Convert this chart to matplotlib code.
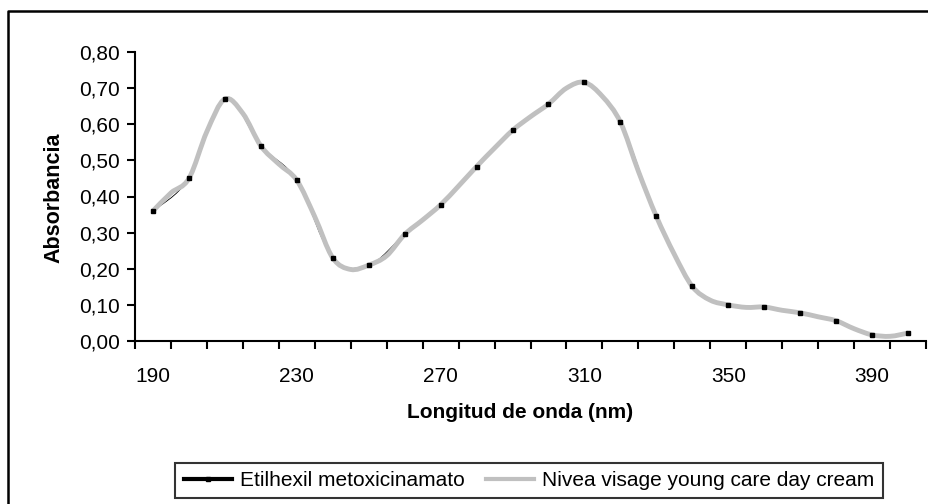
import numpy as np
import matplotlib
matplotlib.use("Agg")
import matplotlib.pyplot as plt
from matplotlib.lines import Line2D
from matplotlib.path import Path
from matplotlib.patches import PathPatch
from matplotlib.ticker import FuncFormatter

plt.rcParams['font.family'] = ['Liberation Sans', 'DejaVu Sans']

# wavelength categories (nm) of the marked series
wavelength = [190, 200, 210, 220, 230, 240, 250, 260, 270, 280, 290,
              300, 310, 320, 330, 340, 350, 360, 370, 380, 390, 400]
etilhexil = [0.36, 0.45, 0.67, 0.54, 0.445, 0.23, 0.21, 0.295, 0.377, 0.483, 0.583,
             0.656, 0.716, 0.606, 0.345, 0.151, 0.10, 0.094, 0.078, 0.056, 0.017, 0.022]

# cream spectrum, read every 5 nm
wavelength_5 = [190, 195, 200, 205, 210, 215, 220, 225, 230, 235, 240, 245, 250, 255,
                260, 265, 270, 275, 280, 285, 290, 295, 300, 305, 310, 315, 320, 325,
                330, 335, 340, 345, 350, 355, 360, 365, 370, 375, 380, 385, 390, 395, 400]
nivea = [0.36, 0.41, 0.45, 0.58, 0.67, 0.63, 0.54, 0.49, 0.445, 0.344, 0.23, 0.198, 0.21, 0.236,
         0.295, 0.335, 0.377, 0.429, 0.483, 0.534, 0.583, 0.621, 0.656, 0.70, 0.716, 0.677, 0.606, 0.47,
         0.345, 0.24, 0.151, 0.113, 0.10, 0.093, 0.094, 0.085, 0.078, 0.067, 0.056, 0.034, 0.017, 0.013, 0.022]

tick_labels = [190, 230, 270, 310, 350, 390]


def smooth_path(xs, ys):
    # Excel-style smoothed line: cubic bezier segments through every point
    xs = np.asarray(xs, float)
    ys = np.asarray(ys, float)
    verts = [(xs[0], ys[0])]
    codes = [Path.MOVETO]
    n = len(xs)
    for i in range(n - 1):
        x0, y0 = (xs[i - 1], ys[i - 1]) if i > 0 else (xs[i], ys[i])
        x3, y3 = (xs[i + 2], ys[i + 2]) if i + 2 < n else (xs[i + 1], ys[i + 1])
        c1 = (xs[i] + (xs[i + 1] - x0) / 6, ys[i] + (ys[i + 1] - y0) / 6)
        c2 = (xs[i + 1] - (x3 - xs[i]) / 6, ys[i + 1] - (y3 - ys[i]) / 6)
        verts += [c1, c2, (xs[i + 1], ys[i + 1])]
        codes += [Path.CURVE4] * 3
    return Path(verts, codes)


# category positions (one slot per 10 nm)
x_cat = (np.array(wavelength) - wavelength[0]) / 10.0
x_cat5 = (np.array(wavelength_5) - wavelength[0]) / 10.0

fig = plt.figure(figsize=(9.29, 5.04), dpi=100)
ax = fig.add_axes([135 / 929, 1 - 341 / 504, (926 - 135) / 929, (341 - 52) / 504])

ax.add_patch(PathPatch(smooth_path(x_cat, etilhexil), fill=False, edgecolor='black', lw=0.6, zorder=2))
ax.add_patch(PathPatch(smooth_path(x_cat5, nivea), fill=False, edgecolor='#c0c0c0', lw=3.5,
                       capstyle='butt', zorder=3))
ax.plot(x_cat, etilhexil, ls='none', marker='s', ms=2.6, color='black', zorder=4)

ax.set_xlim(-0.5, len(wavelength) - 0.5)
ax.set_ylim(0, 0.8)

ax.spines['top'].set_visible(False)
ax.spines['right'].set_visible(False)
for s in ['left', 'bottom']:
    ax.spines[s].set_linewidth(1.5)

ax.set_yticks(np.arange(0, 0.81, 0.1))
ax.yaxis.set_major_formatter(FuncFormatter(lambda v, p: f"{v:.2f}".replace('.', ',')))
ax.tick_params(axis='y', direction='out', length=6, width=1.5, pad=5, labelsize=15)

lab_pos = [wavelength.index(t) for t in tick_labels]
ax.set_xticks(lab_pos)
ax.set_xticklabels([str(t) for t in tick_labels])
ax.set_xticks(np.arange(-0.5, len(wavelength), 1.0), minor=True)
ax.tick_params(axis='x', which='major', length=0, pad=19, labelsize=15)
ax.tick_params(axis='x', which='minor', direction='out', length=6, width=1.5)

ax.set_xlabel("Longitud de onda (nm)", fontsize=15, fontweight='bold')
ax.xaxis.set_label_coords((520 - 135) / 791, (341 - 403) / 289)
ax.set_ylabel("Absorbancia", fontsize=15.5, fontweight='bold')
ax.yaxis.set_label_coords((64 - 135) / 791, (341 - 198) / 289)

handles = [
    Line2D([], [], color='black', lw=3, marker='s', ms=2.6),
    Line2D([], [], color='#c0c0c0', lw=3),
]
leg = fig.legend(handles, ["Etilhexil metoxicinamato", "Nivea visage young care day cream"],
                 loc='center', bbox_to_anchor=(529 / 929, 1 - 480.5 / 504), ncol=2,
                 fontsize=15, frameon=True, fancybox=False, handlelength=2.3,
                 handletextpad=0.4, columnspacing=1.0, borderpad=0.4)
leg.get_frame().set_edgecolor('black')
leg.get_frame().set_linewidth(1.5)

# outer chart frame (right and bottom edges fall outside the image)
fig.add_artist(Line2D([8 / 929, 8 / 929, 1.0], [0.0, 1 - 11 / 504, 1 - 11 / 504],
                      transform=fig.transFigure, color='black', lw=1.8))

fig.savefig("out.png", dpi=100)
